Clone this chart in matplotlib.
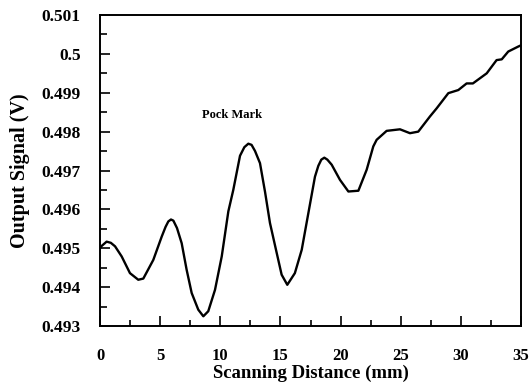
import matplotlib
matplotlib.use("Agg")
import matplotlib.pyplot as plt
from matplotlib.ticker import MultipleLocator

distance_mm = [0.0, 0.14, 0.55, 0.9, 1.25, 1.8, 2.49, 3.18, 3.6, 4.43, 5.13, 5.45, 5.68, 5.9, 6.1,
               6.4, 6.79, 7.2, 7.62, 8.17, 8.59, 9.0, 9.56, 10.12, 10.67, 11.08, 11.64, 12.0,
               12.33, 12.6, 12.89, 13.3, 13.72, 14.13, 14.69, 15.1, 15.57, 16.2, 16.77, 17.32,
               17.87, 18.15, 18.4, 18.65, 18.9, 19.26, 19.95, 20.65, 21.48, 22.17, 22.72, 23.0,
               23.83, 24.94, 25.77, 26.46, 27.43, 27.99, 28.96, 29.79, 30.48, 31.0, 32.15, 32.97,
               33.4, 33.94, 34.78, 35.0]
signal_v = [0.49500, 0.49506, 0.49517, 0.49514, 0.49505, 0.49479, 0.49436, 0.49419, 0.49422,
            0.49470, 0.49530, 0.49555, 0.49569, 0.49574, 0.49571, 0.49552, 0.49513, 0.49445,
            0.49385, 0.49342, 0.49325, 0.49338, 0.49393, 0.49479, 0.49595, 0.49650, 0.49738,
            0.49760, 0.49769, 0.49766, 0.49750, 0.49719, 0.49645, 0.49565, 0.49488, 0.49432,
            0.49406, 0.49436, 0.49496, 0.49590, 0.49684, 0.49712, 0.49728, 0.49733, 0.49728,
            0.49715, 0.49676, 0.49646, 0.49648, 0.49702, 0.49762, 0.49779, 0.49802, 0.49806,
            0.49796, 0.49800, 0.49839, 0.49860, 0.49899, 0.49907, 0.49924, 0.49924, 0.49950,
            0.49984, 0.49986, 0.50006, 0.50019, 0.50022]

x_ticks = [0, 5, 10, 15, 20, 25, 30, 35]
y_ticks = [0.493, 0.494, 0.495, 0.496, 0.497, 0.498, 0.499, 0.5, 0.501]
y_tick_labels = ["0.493", "0.494", "0.495", "0.496", "0.497", "0.498", "0.499", "0.5", "0.501"]
annotation_text = "Pock Mark"

plt.rcParams['font.family'] = ['Liberation Serif', 'DejaVu Serif']

fig = plt.figure(figsize=(5.3, 3.87), dpi=100)
ax = fig.add_axes([0.1887, 0.1576, 0.7943, 0.8036])
ax.plot(distance_mm, signal_v, color='black', lw=1.7, solid_joinstyle='round')
ax.set_xlim(0, 35)
ax.set_ylim(0.493, 0.501)
ax.set_xticks(x_ticks)
ax.set_xticklabels([str(t) for t in x_ticks])
ax.set_yticks(y_ticks)
ax.set_yticklabels(y_tick_labels)
ax.xaxis.set_minor_locator(MultipleLocator(2.5))
ax.yaxis.set_minor_locator(MultipleLocator(0.0005))
ax.tick_params(which='both', direction='in', top=False, right=False, width=1.2)
ax.tick_params(axis='y', which='major', length=7, pad=14)
ax.tick_params(axis='y', which='minor', length=5)
ax.tick_params(axis='x', which='major', length=7, pad=15.5)
ax.tick_params(axis='x', which='minor', length=4)
for lab in ax.get_yticklabels():
    lab.set_fontsize(12.5)
    lab.set_fontweight('bold')
for lab in ax.get_xticklabels():
    lab.set_fontsize(12)
    lab.set_fontweight('bold')
for s in ax.spines.values():
    s.set_linewidth(1.4)
ax.set_xlabel("Scanning Distance (mm)", fontsize=13.5, fontweight='bold', labelpad=1)
ax.set_ylabel("Output Signal (V)", fontsize=14.5, fontweight='bold', labelpad=8)
ax.text(8.5, 0.49843, annotation_text, fontsize=9, fontweight='bold', va='center', ha='left')
fig.savefig("out.png", dpi=100)
